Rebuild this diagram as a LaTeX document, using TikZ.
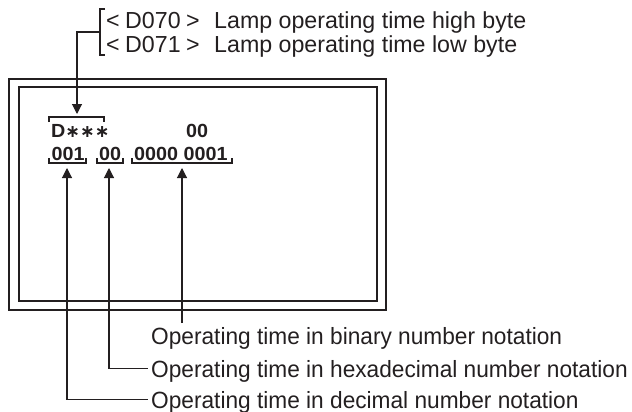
\documentclass[tikz,border=0pt]{standalone}
\usepackage{fontspec}
\setmainfont{Liberation Sans}
\newfontfamily\labfont[FakeStretch=0.965]{Liberation Sans}
\newfontfamily\dispfont[FakeStretch=1.04]{Liberation Sans Bold}
\newfontfamily\starfont{DejaVu Sans Bold}
\usetikzlibrary{arrows.meta}
\definecolor{ink}{RGB}{35,31,32}
\begin{document}
\begin{tikzpicture}[x=1pt,y=-1pt,
  ink/.style={draw=ink,line width=1.1pt},
  arr/.style={ink,-{Triangle[length=10pt,width=10pt]}},
  toptext/.style={anchor=base west,inner sep=0pt,text=ink,font=\fontsize{23.2}{26}\selectfont},
  botlab/.style={anchor=base west,inner sep=0pt,text=ink,font=\labfont\fontsize{23.5}{26}\selectfont},
  disp/.style={anchor=base west,inner sep=0pt,text=ink,font=\dispfont\fontsize{19}{22}\selectfont}]
\useasboundingbox (0,0) rectangle (632,412);
% display frame
\draw[draw=ink,line width=2.6pt] (9,79) rectangle (386,310);
\draw[draw=ink,line width=1.4pt] (19,87) rectangle (377,301);
% top register text
\node[toptext] (d70) at (106,28.5) {<\hspace{5.5pt}D070\hspace{5.5pt}>};
\node[toptext] (d71) at (106,52.5) {<\hspace{5.5pt}D071\hspace{5.5pt}>};
\node[toptext] (t70) at (214,28.5) {Lamp operating time high byte};
\node[toptext] (t71) at (214,52.5) {Lamp operating time low byte};
% top brace
\coordinate (bt) at (100,9);
\coordinate (bb) at (100,55);
\coordinate (bm) at (100,32);
\draw[ink] ([xshift=5pt]bt) -- (bt) -- (bb) -- ([xshift=5pt]bb);
% display contents
\node[disp] (dstar) at (51,137) {D{\starfont\fontsize{17.5}{20}\selectfont ∗∗∗}};
\node[disp] (up00) at (186,137) {00};
\node[disp] (dec) at (51.5,160) {001};
\node[disp] (hex) at (99,160) {00};
\node[disp] (bin) at (134,160) {0000 0001};
% bracket over D***
\coordinate (sbr) at (77,117);
\draw[ink] (49,122) -- (49,117) -- (104,117) -- (104,122);
\draw[arr] (bm) -| ([yshift=3pt]sbr);
% brackets under digits
\draw[ink] (49,158) -- (49,163) -- (86,163) -- (86,158);
\draw[ink] (97,158) -- (97,163) -- (123,163) -- (123,158);
\draw[ink] (132,158) -- (132,163) -- (232,163) -- (232,158);
\coordinate (decT) at (67,168);
\coordinate (hexT) at (109,168);
\coordinate (binT) at (182,168);
% bottom labels
\node[botlab] (lbin) at (151,344.5) {Operating time in binary number notation};
\node[botlab] (lhex) at (151,377.5) {Operating time in hexadecimal number notation};
\node[botlab] (ldec) at (151,408.5) {Operating time in decimal number notation};
\coordinate (binE) at (182,323);
\draw[arr] (binE) -- (binT);
\draw[arr] ([xshift=-3.5pt,yshift=2.5pt]lhex.west) -| (hexT);
\draw[arr] ([xshift=-3.5pt,yshift=2.5pt]ldec.west) -| (decT);
\end{tikzpicture}
\end{document}
